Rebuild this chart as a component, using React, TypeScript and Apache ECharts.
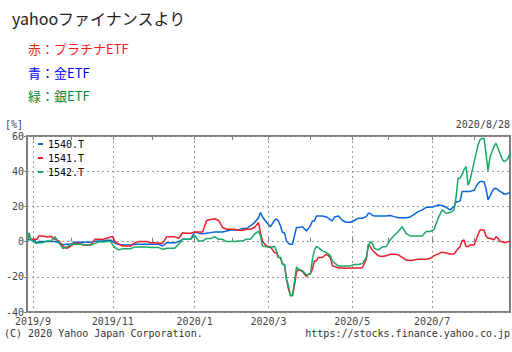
import React, { useEffect, useRef } from 'react';
import * as echarts from 'echarts';

// ---- calendar: Tokyo Stock Exchange trading days ----
const START_DATE = '2019-08-28';
const END_DATE = '2020-08-28';
const TSE_HOLIDAYS = [
  '2019-09-16', '2019-09-23', '2019-10-14', '2019-10-22', '2019-11-04', '2019-12-31',
  '2020-01-01', '2020-01-02', '2020-01-03', '2020-01-13', '2020-02-11', '2020-02-24',
  '2020-03-20', '2020-04-29', '2020-05-04', '2020-05-05', '2020-05-06',
  '2020-07-23', '2020-07-24', '2020-08-10',
];

const SERIES_NAMES = ['1540.T', '1541.T', '1542.T'];

// trading-day number (0 = 2019/8/28) of each sampled point
const SAMPLE_DAYS = [
  0, 1, 2, 4, 5, 6, 8, 10, 12, 14, 16, 18, 20, 22,
  24, 26, 28, 30, 32, 34, 36, 38, 40, 42,
  43, 44, 46, 48, 50, 52, 54, 56, 58, 60, 62,
  64, 66, 68, 70, 72, 74, 76, 78, 80, 82,
  84, 86, 88, 90, 92, 94, 96, 98, 100, 102,
  104, 106, 108, 110, 112, 114, 116, 117, 118, 120,
  122, 124, 125, 126, 127, 128, 129, 130, 131, 132, 133, 134, 135, 136, 138, 140, 141,
  142, 143, 144, 145, 146, 148, 150, 152, 153, 154, 156, 158, 160, 162,
  164, 166, 168, 170, 171, 172, 173, 174, 176, 178, 180,
  182, 184, 186, 188, 190, 192, 194, 196, 198, 200, 202,
  204, 206, 208, 210, 212, 214, 215, 216, 217, 218, 219, 220, 221, 222, 223,
  224, 225, 226, 227, 228, 229, 230, 231, 232, 233, 234, 235, 236, 237, 238, 239, 240, 241, 242,
];

// 1540.T (gold ETF), % change
const GOLD = [
  1, 1, 1, 0.5, -1.1, 0, 0, 0, 0, 0, -0.6, -1.8, -1.5, -1.5,
  -0.3, -0.3, -0.3, -0.3, -0.3, 0.2, 0.4, 0.4, 0.8, 0.8,
  0, -0.8, -1.5, -1.9, -1.9, -1.9, -1.5, -1.5, -1.5, -1.5, -1.5,
  -1.5, -1.5, -2.5, -0.6, -0.6, -0.6, 0, 1.3, 1.3, 1.3,
  5.5, 4.8, 4.5, 4.8, 5.1, 5.5, 5.5, 5.5, 6, 6.6,
  6.6, 6.6, 7.4, 7.4, 9, 10.8, 13.6, 16.5, 14, 11,
  8.5, 12, 13, 11.7, 8.9, 5.1, 5.1, 0.4, -1, -1.5, -1.5, 3.2, 8, 8, 8.5, 6, 7.5,
  9, 11.7, 11.7, 14.6, 14.6, 14.6, 14, 12.5, 11.7, 14, 14.5, 12, 11, 11,
  12, 13.3, 13.3, 14.2, 16.1, 16, 15, 14.5, 14.5, 14.5, 14.5,
  14.8, 14.2, 13.6, 13.6, 13.6, 14, 15.5, 17, 18, 19.5, 19.5,
  19.9, 20.8, 20.5, 19.5, 18, 20, 22.7, 22.7, 23, 28.4, 28.4, 28.4, 28.4, 28.4, 29,
  29, 31.3, 33, 34.1, 34.1, 34, 30, 23.7, 26, 28.4, 30, 30.3, 29.5, 28.4, 28, 27, 27, 27.5, 27.8,
];

// 1541.T (platinum ETF), % change
const PLATINUM = [
  1.3, 3, 1.3, 1.3, 1.3, 3.2, 3.2, 2.6, 3, 1.3, 0.4, -2.8, -3.8, -2.5,
  -0.9, -0.9, -1.9, -1.9, -1.9, 1.3, 1.3, 1.3, 1.9, 2.7,
  2.7, 0, -1.5, -2.5, -2.5, -2.5, -0.7, 0, 0, 0, -0.6,
  -0.6, -0.9, -0.9, 2.7, 2.7, 2.7, 1.9, 5, 4.7, 4.7,
  5.5, 5.5, 5.5, 12, 12.5, 13, 12, 8, 7, 7,
  7, 6.4, 6.4, 7, 7, 8, 10.8, 5, 0, -2.5,
  -3, -6.3, -6.3, -9, -9, -13, -13, -21, -27, -30.7, -30.7, -25, -17.6, -15.7, -17, -19.9, -18.6,
  -18, -15.7, -11, -11, -9, -9, -7.2, -9, -13.8, -14, -15, -15, -15.2, -15,
  -15, -15, -15, -10, -1.5, -3, -4.7, -6, -8, -8.5, -8,
  -7.2, -7.2, -7.5, -9, -10.5, -10.8, -10.5, -10, -10, -10, -9.5,
  -8, -7, -6, -6.5, -7, -7, -5.5, -4, -2.8, 0.5, 0.9, -2.8, -2.8, -1.9, -1.9,
  -1.9, 0.9, 4, 6.6, 6.6, 6.6, 3, 1.9, 1.9, 1.5, 1, 2.8, 2, 0, 0, -0.5, -0.5, 0, 0,
];

// 1542.T (silver ETF), % change
const SILVER = [
  0, 5, 1, -0.6, -0.6, -0.6, -0.6, 0.4, 0.4, 2.8, -0.6, -4, -3, -1.5,
  -1.5, -1.5, -1.5, -2, -2, -1, -0.2, -0.2, 0, 0,
  -2, -3.4, -4.7, -4, -4, -4, -3, -3, -3, -3, -3.4,
  -3.4, -3.4, -4.4, -3.8, -3.8, -3.8, -1.5, 1.3, 1.3, 1.3,
  3.5, 0.4, 0.4, 1.7, 1.7, 2.8, 1.3, 1.3, 0, 0,
  0, 0.4, 0.4, 1.3, 1.3, 4.2, 6, 3.2, -2.5, -3,
  -3.4, -2.8, -5.3, -9, -9, -12.9, -12.9, -21.4, -25, -30.5, -30.5, -23, -14.5, -15.7, -16.5, -19, -18.6,
  -18.6, -10, -5, -2.8, -3.4, -5.3, -6.3, -8, -11, -12, -13.8, -13.8, -13.8, -13.8,
  -13, -13, -12.5, -9, -3, 0, -1, -3.8, -4.7, -3, -2.8,
  1, 3.5, 5.7, 8.5, 4.5, 3.2, 3.2, 3.2, 3.2, 5.7, 5.7,
  7, 13.3, 18, 16.1, 16.5, 18, 25.6, 36, 36, 38, 41, 42.6, 32, 35, 40,
  45, 50, 55, 57.8, 58.7, 58.7, 50, 40.3, 48, 51, 54, 55.9, 53, 50, 47, 45.5, 46, 47.3, 50.2,
];

const Y_MIN = -40;
const Y_MAX = 60;
const Y_STEP = 20;

const MONO = '"DejaVu Sans Mono", "Liberation Mono", monospace';
const JP = '"Noto Sans CJK JP", "Noto Sans", sans-serif';

function buildTradingDays(): { label: string; month: number }[] {
  const hol = new Set(TSE_HOLIDAYS);
  const [sy, sm, sd] = START_DATE.split('-').map(Number);
  const [ey, em, ed] = END_DATE.split('-').map(Number);
  let t = Date.UTC(sy, sm - 1, sd);
  const endT = Date.UTC(ey, em - 1, ed);
  const out: { label: string; month: number }[] = [];
  while (t <= endT) {
    const d = new Date(t);
    const wd = d.getUTCDay();
    const iso = d.toISOString().slice(0, 10);
    if (wd !== 0 && wd !== 6 && !hol.has(iso)) {
      out.push({
        label: `${d.getUTCFullYear()}/${d.getUTCMonth() + 1}/${d.getUTCDate()}`,
        month: d.getUTCMonth() + 1,
      });
    }
    t += 86400000;
  }
  return out;
}

export default function App() {
  const ref = useRef<HTMLDivElement>(null);

  useEffect(() => {
    if (!ref.current) return;
    const chart = echarts.init(ref.current, null, { renderer: 'svg' });

    const days = buildTradingDays();
    const categories = days.map((d) => d.label);
    const monthStart = days.map((d, i) => i > 0 && d.month !== days[i - 1].month);
    const oddMonthStart = days.map((d, i) => monthStart[i] && d.month % 2 === 1);

    const toData = (vals: number[]) => SAMPLE_DAYS.map((d, i) => [categories[d], vals[i]]);

    const colors = ['#0a64dc', '#e8202e', '#1aa865'];
    const seriesVals = [GOLD, PLATINUM, SILVER];

    const txt = (x: number, y: number, text: string, font: string, fill: string, align = 'left') => ({
      type: 'text',
      x,
      y,
      silent: true,
      style: { text, font, fill, align, verticalAlign: 'middle' },
    });

    chart.setOption({
      animation: false,
      backgroundColor: '#ffffff',
      grid: {
        left: 27,
        right: 2,
        top: 136,
        bottom: 40,
        show: true,
        borderColor: '#808080',
        borderWidth: 2,
        backgroundColor: 'transparent',
      },
      legend: {
        data: SERIES_NAMES,
        orient: 'vertical',
        left: 38,
        top: 138,
        padding: 0,
        icon: 'rect',
        itemWidth: 5,
        itemHeight: 2,
        itemGap: 2,
        textStyle: { fontFamily: MONO, fontSize: 10, color: '#000', lineHeight: 12 },
      },
      xAxis: [
        {
          type: 'category',
          data: categories,
          boundaryGap: false,
          axisLine: { show: false },
          axisTick: {
            show: true,
            inside: true,
            length: 4,
            interval: (i: number) => monthStart[i],
            lineStyle: { color: '#808080', width: 1 },
          },
          axisLabel: {
            interval: (i: number) => oddMonthStart[i],
            formatter: (v: string) => v.split('/').slice(0, 2).join('/'),
            fontFamily: MONO,
            fontSize: 10,
            color: '#444',
            margin: 4,
            showMinLabel: true,
            showMaxLabel: true,
            hideOverlap: false,
          },
          splitLine: {
            show: true,
            interval: (i: number) => oddMonthStart[i],
            lineStyle: { color: '#999', type: [2, 3], width: 1 },
          },
        },
        {
          type: 'category',
          data: categories,
          position: 'top',
          boundaryGap: false,
          axisLine: { show: false },
          axisTick: {
            show: true,
            inside: true,
            length: 4,
            interval: (i: number) => monthStart[i],
            lineStyle: { color: '#808080', width: 1 },
          },
          axisLabel: { show: false },
          splitLine: { show: false },
        },
      ],
      yAxis: {
        type: 'value',
        min: Y_MIN,
        max: Y_MAX,
        interval: Y_STEP,
        axisLine: { show: false },
        axisTick: { show: true, length: 3, lineStyle: { color: '#808080' } },
        axisLabel: { fontFamily: MONO, fontSize: 10, color: '#444', margin: 3 },
        splitLine: { show: true, lineStyle: { color: '#999', type: [2, 3], width: 1 } },
      },
      series: SERIES_NAMES.map((name, k) => ({
        name,
        type: 'line',
        xAxisIndex: 0,
        data: toData(seriesVals[k]),
        showSymbol: false,
        symbol: 'none',
        lineStyle: { width: 1.5, color: colors[k] },
        itemStyle: { color: colors[k] },
      })),
      graphic: [
        txt(12, 18, 'yahooファイナンスより', `16px ${JP}`, '#222'),
        txt(28, 48.5, '赤：プラチナETF', `13px ${JP}`, '#ff1a1a'),
        txt(28, 72, '青：金ETF', `13px ${JP}`, '#0000ff'),
        txt(28, 95.5, '緑：銀ETF', `13px ${JP}`, '#008a3c'),
        txt(5, 124, '[%]', `10px ${MONO}`, '#444'),
        txt(510, 124, '2020/8/28', `10px ${MONO}`, '#444', 'right'),
        txt(4, 333, '(C) 2020 Yahoo Japan Corporation.', `10px ${MONO}`, '#333'),
        txt(510, 333, 'https://stocks.finance.yahoo.co.jp', `10px ${MONO}`, '#333', 'right'),
      ],
    });

    return () => chart.dispose();
  }, []);

  return (
    <div
      ref={ref}
      style={{ position: 'fixed', left: 0, top: 0, width: 512, height: 352, background: '#fff' }}
    />
  );
}
